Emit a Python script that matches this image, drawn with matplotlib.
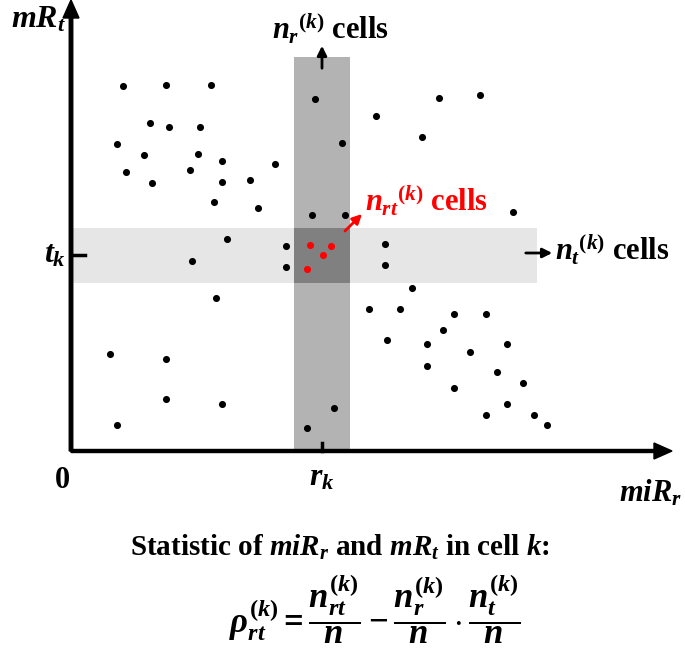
import numpy as np
import matplotlib
matplotlib.use('Agg')
import matplotlib.pyplot as plt
from matplotlib.patches import Rectangle

plt.rcParams['font.family'] = ['Liberation Serif', 'DejaVu Serif']
plt.rcParams['font.weight'] = 'bold'
plt.rcParams['mathtext.fontset'] = 'custom'
plt.rcParams['mathtext.rm'] = 'Liberation Serif:bold'
plt.rcParams['mathtext.it'] = 'Liberation Serif:bold:italic'
plt.rcParams['mathtext.bf'] = 'Liberation Serif:bold'

# scatter of cells (miR_r, mR_t), black = outside cell k, red = inside cell k
mir_r = [52, 95, 140, 244, 79, 98, 129, 46, 271, 73, 127, 151, 204, 55, 119, 81,
         151, 179, 143, 187, 241, 274, 156, 215, 305, 368, 409, 351, 442, 314, 121,
         215, 145, 39, 95, 95, 151, 46, 236, 263, 314, 341, 298, 329, 383, 415, 372,
         316, 356, 436, 399, 356, 426, 452, 383, 436, 415, 463, 476]
mr_t = [365, 366, 366, 352, 328, 324, 324, 307, 308, 296, 297, 290, 287, 279, 281, 268,
        269, 271, 249, 243, 236, 236, 212, 205, 335, 353, 356, 314, 239, 207, 190,
        184, 153, 97, 92, 52, 47, 26, 23, 43, 186, 163, 142, 142, 137, 137, 121,
        111, 107, 107, 99, 85, 79, 68, 63, 47, 36, 36, 26]
mir_r_k = [239, 260, 252, 236]
mr_t_k = [206, 205, 196, 182]

r_lo, r_hi = 223, 279   # miR_r range of column k
t_lo, t_hi = 168, 223   # mR_t range of row k
r_k, t_k = 251, 196

fig = plt.figure(figsize=(6.85, 6.51), dpi=100)
ax = fig.add_axes([71/685, 200/651, 600/685, 451/651])
ax.set_xlim(0, 600)
ax.set_ylim(0, 451)
ax.axis('off')

# bands
ax.add_patch(Rectangle((2, t_lo), 464, t_hi - t_lo, color='#e6e6e6', lw=0, zorder=1))
ax.add_patch(Rectangle((r_lo, 0), r_hi - r_lo, 394, color='#b3b3b3', lw=0, zorder=2))
ax.add_patch(Rectangle((r_lo, t_lo), r_hi - r_lo, t_hi - t_lo, color='#808080', lw=0, zorder=3))

ax.scatter(mir_r, mr_t, s=26, c='black', lw=0, zorder=5, clip_on=False)
ax.scatter(mir_r_k, mr_t_k, s=26, c='red', lw=0, zorder=5, clip_on=False)

# axes with arrows
ax.arrow(0, 0, 601, 0, width=3, head_width=16, head_length=18, length_includes_head=True,
         color='black', zorder=6, clip_on=False)
ax.arrow(0, 0, 0, 451, width=3.5, head_width=16, head_length=18, length_includes_head=True,
         color='black', zorder=6, clip_on=False)
ax.plot([0, 14], [t_k, t_k], color='black', lw=2.5, zorder=6, clip_on=False)
ax.plot([r_k, r_k], [0, 8], color='black', lw=2.5, zorder=6, clip_on=False)

fs = 22
ax.text(-5, 431, r'$mR_t$', fontsize=23, ha='right', va='center')
ax.text(-5, t_k, r'$t_k$', fontsize=23, ha='right', va='center')
ax.text(r_k, -27, r'$r_k$', fontsize=23, ha='center', va='center')
ax.text(-9, -29, '0', fontsize=22, ha='center', va='center')
ax.text(611, -42, r'$miR_r$', fontsize=22, ha='right', va='center')

# annotations
ax.annotate('', xy=(251, 408), xytext=(251, 380),
            arrowprops=dict(arrowstyle='-|>', color='black', lw=2, mutation_scale=14))
ax.text(259, 422, r'$n_r{}^{(k)}$ cells', fontsize=fs, ha='center', va='center')
ax.annotate('', xy=(293, 239), xytext=(272, 218),
            arrowprops=dict(arrowstyle='-|>', color='red', lw=2, mutation_scale=14), zorder=6)
ax.text(294, 250, r'$n_{rt}{}^{(k)}$ cells', fontsize=fs, ha='left', va='center', color='red')
ax.annotate('', xy=(484, 198), xytext=(452, 198),
            arrowprops=dict(arrowstyle='-|>', color='black', lw=2, mutation_scale=14))
ax.text(484, 201, r'$n_t{}^{(k)}$ cells', fontsize=fs, ha='left', va='center')

ax.text(269, -96, r'Statistic of $miR_r$ and $mR_t$ in cell $k$:', fontsize=21,
        ha='center', va='center')
ax.text(304, -158,
        r'$\rho_{rt}^{(k)} = \dfrac{n_{rt}^{(k)}}{n} - \dfrac{n_r^{(k)}}{n} \cdot \dfrac{n_t^{(k)}}{n}$',
        fontsize=25, ha='center', va='center')

fig.savefig('out.png', dpi=100)
